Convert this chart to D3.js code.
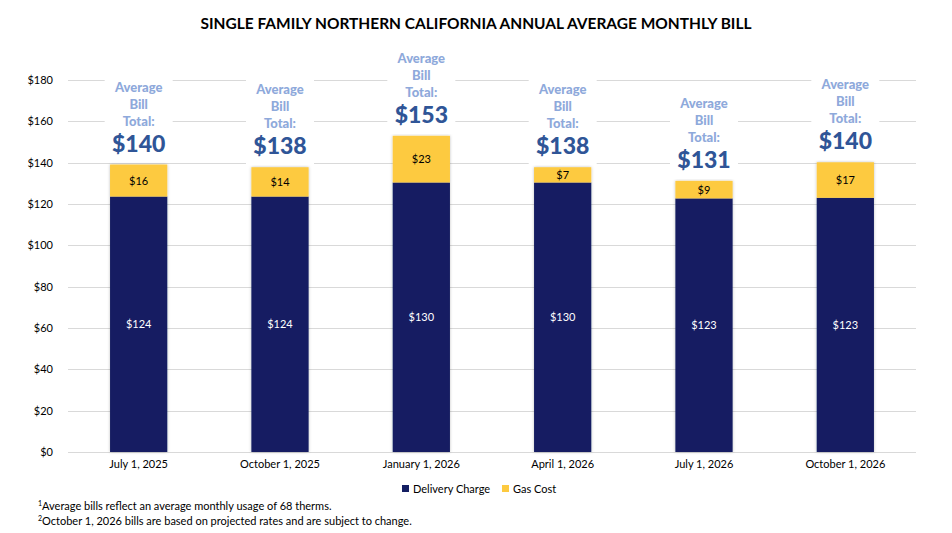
<!DOCTYPE html>
<html>
<head>
<meta charset="utf-8">
<script src="https://cdn.jsdelivr.net/npm/d3@7"></script>
<style>
  body { margin: 0; background: #fff; }
  svg { font-family: Lato, "Open Sans", sans-serif; }
</style>
</head>
<body>
<div id="chart"></div>
<script>
const categories = ['July 1, 2025', 'October 1, 2025', 'January 1, 2026', 'April 1, 2026', 'July 1, 2026', 'October 1, 2026'];
const delivery = [123.6, 123.6, 130.4, 130.4, 122.7, 123.0];
const gasCost = [15.5, 14.2, 22.6, 7.4, 8.5, 17.2];
const totals = [140, 138, 153, 138, 131, 140];
const yTicks = [0, 20, 40, 60, 80, 100, 120, 140, 160, 180];

const width = 952, height = 533;
const margin = { top: 80, right: 36, bottom: 81, left: 68 };

const svg = d3.select('#chart')
  .append('svg')
  .attr('width', width)
  .attr('height', height);

const x = d3.scaleBand()
  .domain(categories)
  .range([margin.left, width - margin.right])
  .paddingInner(0.595)
  .paddingOuter(0.2975);

const y = d3.scaleLinear()
  .domain([0, 180])
  .range([height - margin.bottom, margin.top]);

// title
svg.append('text')
  .attr('x', 476)
  .attr('y', 29)
  .attr('text-anchor', 'middle')
  .attr('font-weight', 'bold')
  .attr('font-size', 16)
  .attr('textLength', 551)
  .attr('lengthAdjust', 'spacingAndGlyphs')
  .attr('fill', '#000')
  .text('SINGLE FAMILY NORTHERN CALIFORNIA ANNUAL AVERAGE MONTHLY BILL');

// gridlines
svg.append('g')
  .selectAll('line')
  .data(yTicks)
  .enter()
  .append('line')
  .attr('x1', margin.left)
  .attr('x2', width - margin.right)
  .attr('y1', d => Math.round(y(d)) + 0.5)
  .attr('y2', d => Math.round(y(d)) + 0.5)
  .attr('stroke', '#d9d9d9')
  .attr('stroke-width', 1);

// y axis labels
const yAxis = d3.axisLeft(y).tickValues(yTicks).tickFormat(d => '$' + d).tickSize(0).tickPadding(0);
svg.append('g')
  .attr('transform', `translate(${margin.left - 15},0)`)
  .call(yAxis)
  .call(g => g.select('.domain').remove())
  .call(g => g.selectAll('text').attr('font-size', 11).attr('fill', '#000').attr('font-family', 'Lato'));

// x axis labels
const xAxis = d3.axisBottom(x).tickSize(0).tickPadding(0);
svg.append('g')
  .attr('transform', `translate(0,${height - margin.bottom + 8})`)
  .call(xAxis)
  .call(g => g.select('.domain').remove())
  .call(g => g.selectAll('text').attr('font-size', 11).attr('fill', '#000').attr('font-family', 'Lato'));

const rows = categories.map((c, i) => ({
  cat: c, del: delivery[i], gas: gasCost[i], total: totals[i]
}));

// soft shadow
const defs = svg.append('defs');
const f = defs.append('filter').attr('id', 'shadow').attr('x', '-20%').attr('y', '-5%').attr('width', '140%').attr('height', '110%');
f.append('feDropShadow').attr('dx', 0).attr('dy', 0).attr('stdDeviation', 1.5).attr('flood-color', '#000').attr('flood-opacity', 0.25);

const bars = svg.append('g').selectAll('g')
  .data(rows)
  .enter()
  .append('g')
  .attr('filter', 'url(#shadow)');

bars.append('rect')
  .attr('x', d => x(d.cat))
  .attr('width', x.bandwidth())
  .attr('y', d => y(d.del))
  .attr('height', d => y(0) - y(d.del))
  .attr('fill', '#141E62');

bars.append('rect')
  .attr('x', d => x(d.cat))
  .attr('width', x.bandwidth())
  .attr('y', d => y(d.del + d.gas))
  .attr('height', d => y(d.del) - y(d.del + d.gas))
  .attr('fill', '#FDCA40');

// segment labels
svg.append('g').selectAll('text')
  .data(rows)
  .enter()
  .append('text')
  .attr('x', d => x(d.cat) + x.bandwidth() / 2)
  .attr('y', d => (y(d.del) + y(0)) / 2 + 4)
  .attr('text-anchor', 'middle')
  .attr('font-size', 11)
  .attr('fill', '#fff')
  .text(d => '$' + Math.round(d.del));

svg.append('g').selectAll('text')
  .data(rows)
  .enter()
  .append('text')
  .attr('x', d => x(d.cat) + x.bandwidth() / 2)
  .attr('y', d => (y(d.del) + y(d.del + d.gas)) / 2 + 4)
  .attr('text-anchor', 'middle')
  .attr('font-size', 11)
  .attr('fill', '#000')
  .text(d => '$' + Math.round(d.gas));

// total labels with white box behind
const lab = svg.append('g').selectAll('g')
  .data(rows)
  .enter()
  .append('g')
  .attr('transform', d => `translate(${x(d.cat) + x.bandwidth() / 2},${y(d.del + d.gas)})`);

lab.append('rect')
  .attr('x', -34)
  .attr('width', 68)
  .attr('y', -88)
  .attr('height', 86)
  .attr('fill', '#fff');

['Average', 'Bill', 'Total:'].forEach((t, i) => {
  lab.append('text')
    .attr('y', -73 + i * 17)
    .attr('text-anchor', 'middle')
    .attr('font-size', 13)
    .attr('font-weight', 900)
    .attr('fill', '#8EA9DB')
    .text(t);
});

lab.append('text')
  .attr('y', -13)
  .attr('text-anchor', 'middle')
  .attr('font-size', 23)
  .attr('font-weight', 900)
  .attr('fill', '#2F5597')
  .text(d => '$' + d.total);

// legend
const legendItems = [
  { name: 'Delivery Charge', color: '#141E62' },
  { name: 'Gas Cost', color: '#FDCA40' }
];
const legend = svg.append('g').attr('transform', 'translate(402,489)');
const lx = [0, 100];
legendItems.forEach((it, i) => {
  legend.append('rect')
    .attr('x', lx[i])
    .attr('y', -4)
    .attr('width', 7)
    .attr('height', 7)
    .attr('fill', it.color);
  legend.append('text')
    .attr('x', lx[i] + 11)
    .attr('y', 3.5)
    .attr('font-size', 11)
    .attr('fill', '#000')
    .text(it.name);
});

// footnotes
const notes = [
  ['1', 'Average bills reflect an average monthly usage of 68 therms.'],
  ['2', 'October 1, 2026 bills are based on projected rates and are subject to change.']
];
notes.forEach((n, i) => {
  const t = svg.append('text')
    .attr('x', 38)
    .attr('y', 510 + i * 15)
    .attr('font-size', 11)
    .attr('fill', '#000');
  t.append('tspan').attr('font-size', 7).attr('dy', -4).text(n[0]);
  t.append('tspan').attr('dy', 4).text(n[1]);
});
</script>
</body>
</html>
